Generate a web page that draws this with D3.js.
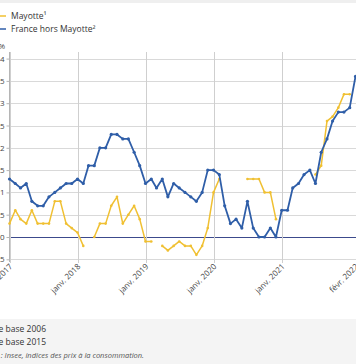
<!DOCTYPE html>
<html><head><meta charset="utf-8">
<script src="https://cdn.jsdelivr.net/npm/d3@7"></script>
<style>
html,body{margin:0;padding:0;background:#fff;}
svg{display:block;font-family:"Open Sans",sans-serif;}
</style></head>
<body><svg id="c" width="356" height="364"></svg>
<script>
const startMonth = "2017-01";
const endMonth = "2022-02";
const seriesNames = ["Mayotte¹", "France hors Mayotte²"];
const mayotte = [0.3,0.6,0.4,0.3,0.6,0.3,0.3,0.3,0.8,0.8,0.3,0.2,
  0.1,-0.2,null,0.0,0.3,0.3,0.7,0.9,0.3,0.5,0.7,0.4,
  -0.1,-0.1,null,-0.2,-0.3,-0.2,-0.1,-0.2,-0.2,-0.4,-0.2,0.2,
  1.0,1.3,null,null,null,null,1.3,1.3,1.3,1.0,1.0,0.4,
  null,null,null,null,null,null,1.4,1.6,2.6,2.7,2.9,3.2,
  3.2];
const france = [1.3,1.2,1.1,1.2,0.8,0.7,0.7,0.9,1.0,1.1,1.2,1.2,
  1.3,1.2,1.6,1.6,2.0,2.0,2.3,2.3,2.2,2.2,1.9,1.6,
  1.2,1.3,1.1,1.3,0.9,1.2,1.1,1.0,0.9,0.8,1.0,1.5,
  1.5,1.4,0.7,0.3,0.4,0.2,0.8,0.2,0.0,0.0,0.2,0.0,
  0.6,0.6,1.1,1.2,1.4,1.5,1.2,1.9,2.2,2.6,2.8,2.8,
  2.9,3.6];
const xTickMonths = ["2017-01","2018-01","2019-01","2020-01","2021-01","2022-02"];
const xTickLabels = ["janv. 2017","janv. 2018","janv. 2019","janv. 2020","janv. 2021","févr. 2022"];
const yTicks = [-0.5,0,0.5,1,1.5,2,2.5,3,3.5,4];
const yUnit = "En %";
const notes = ["1. Indice base 2006", "2. Indice base 2015"];
const source = "Source : Insee, indices des prix à la consommation.";

const parse = d3.timeParse("%Y-%m");
const months = d3.timeMonth.range(parse(startMonth), d3.timeMonth.offset(parse(endMonth),1));

const svg = d3.select("#c");
const W = 356, H = 364;
const colors = ["#f0c032", "#2f5ea8"];

// backgrounds
svg.append("rect").attr("x",0).attr("y",0).attr("width",W).attr("height",H).attr("fill","#fff");
svg.append("rect").attr("x",0).attr("y",0).attr("width",W).attr("height",3).attr("fill","#efefef");
svg.append("rect").attr("x",0).attr("y",319).attr("width",W).attr("height",H-319).attr("fill","#f4f4f4");

const x = d3.scaleTime().domain([parse(startMonth), parse(endMonth)]).range([9.5, 355.5]);
const y = d3.scaleLinear().domain([-0.5, 4]).range([259.3, 58.6]);

// horizontal grid
const g = svg.append("g");
g.selectAll(".hg").data(yTicks).enter().append("line")
  .attr("x1", 9.5).attr("x2", W)
  .attr("y1", d => Math.round(y(d))+0.5).attr("y2", d => Math.round(y(d))+0.5)
  .attr("stroke", d => d===0 ? "#3c4a8c" : "#d9d9d9").attr("stroke-width", 1);

// vertical grid
const xt = xTickMonths.map(parse);
g.selectAll(".vg").data(xt).enter().append("line")
  .attr("x1", d => Math.round(x(d))+0.5).attr("x2", d => Math.round(x(d))+0.5)
  .attr("y1", 52).attr("y2", 263)
  .attr("stroke", "#cfcfcf").attr("stroke-width", 1);

// y axis
const yAxis = d3.axisLeft(y).tickValues(yTicks).tickSize(3)
  .tickFormat(d => d3.format(".1~f")(d).replace(".", ","));
const ya = svg.append("g").attr("transform","translate(9.5,0)").call(yAxis);
ya.select(".domain").attr("stroke","#b5b5b5").attr("d","M0,52V262");
ya.selectAll(".tick line").attr("stroke","#b5b5b5");
ya.selectAll(".tick text").attr("font-size",8).attr("fill","#444").attr("x",-5).attr("font-family","Open Sans");

svg.append("text").attr("x",5).attr("y",49).attr("text-anchor","end")
  .attr("font-size",8).attr("fill","#444").text(yUnit);

// x axis labels
const xAxis = d3.axisBottom(x).tickValues(xt).tickSize(0).tickFormat((d,i)=>xTickLabels[i]);
const xa = svg.append("g").attr("transform","translate(0,262)").call(xAxis);
xa.select(".domain").remove();
xa.selectAll(".tick text").attr("font-size",8).attr("fill","#444").attr("font-family","Open Sans")
  .attr("text-anchor","end").attr("transform","translate(1,3) rotate(-45)").attr("x",0).attr("y",0).attr("dy","0.35em");

// lines
const series = [mayotte, france];
series.forEach((vals, si) => {
  const pts = vals.map((v,i) => ({d: months[i], v}));
  const line = d3.line().defined(p => p.v !== null).x(p => x(p.d)).y(p => y(p.v));
  svg.append("path").datum(pts).attr("d", line).attr("fill","none")
    .attr("stroke", colors[si]).attr("stroke-width", si===1 ? 1.8 : 1.5).attr("stroke-linejoin","round");
  svg.append("g").selectAll("circle").data(pts.filter(p => p.v !== null)).enter().append("circle")
    .attr("cx", p => x(p.d)).attr("cy", p => y(p.v)).attr("r", si===1 ? 1.6 : 1.3).attr("fill", colors[si]);
});

// legend
seriesNames.forEach((n, i) => {
  const ly = 16 + i*13;
  svg.append("line").attr("x1",-4).attr("x2",6).attr("y1",ly).attr("y2",ly)
    .attr("stroke",colors[i]).attr("stroke-width",1.5);
  svg.append("text").attr("x",11).attr("y",ly).attr("dy","0.35em")
    .attr("font-size",8.5).attr("fill","#333").text(n);
});

// footnotes
notes.forEach((n,i) => {
  svg.append("text").attr("x",46).attr("y",329+i*13).attr("dy","0.35em").attr("text-anchor","end")
    .attr("font-size",8.5).attr("fill","#333").text(n);
});
svg.append("text").attr("x",144).attr("y",355).attr("dy","0.35em").attr("text-anchor","end")
  .attr("font-size",7.5).attr("font-style","italic").attr("fill","#555").text(source);
</script></body></html>
